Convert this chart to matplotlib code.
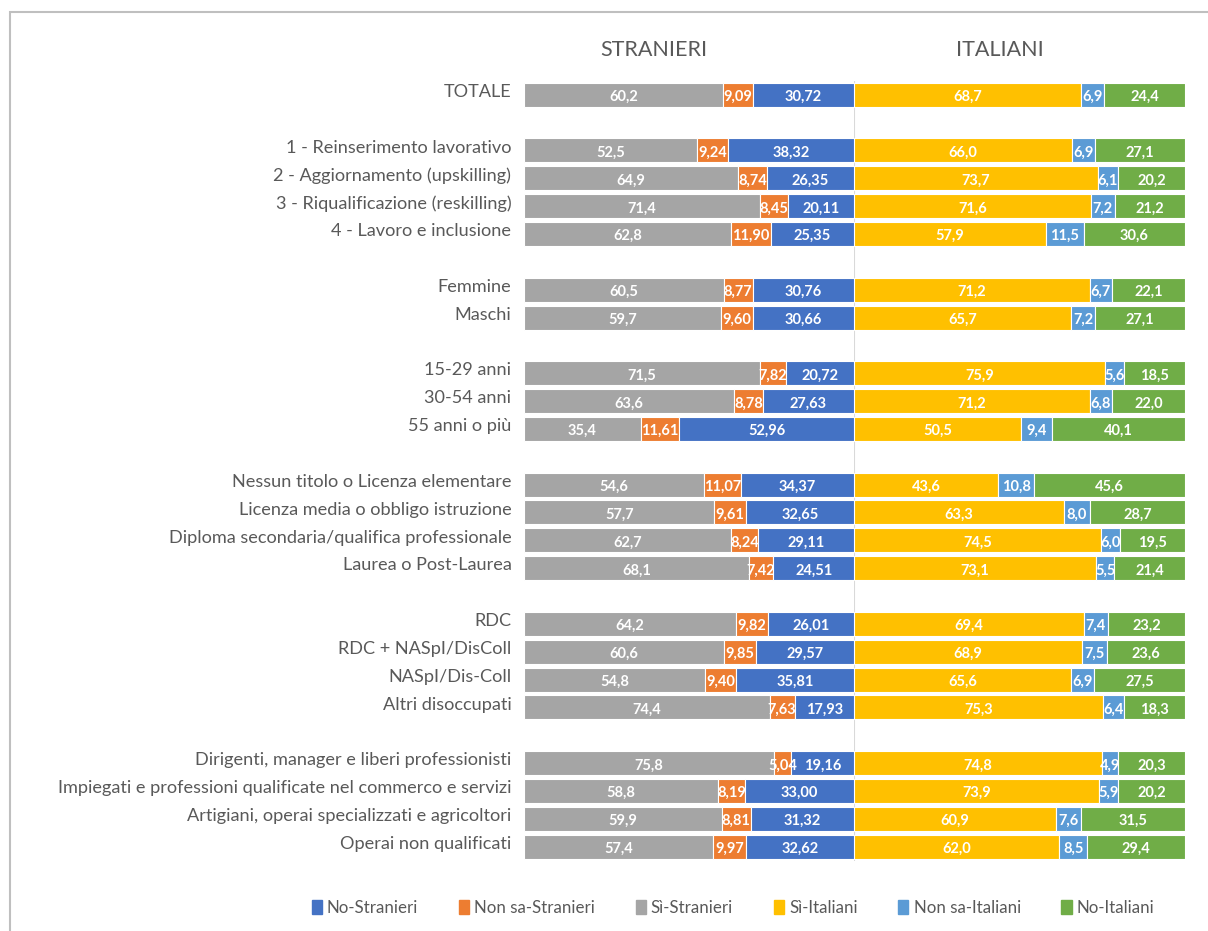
import matplotlib
matplotlib.use("Agg")
import matplotlib.pyplot as plt
from matplotlib.patches import Rectangle, Patch
import numpy as np

plt.rcParams['font.family'] = ['Lato', 'DejaVu Sans']

categories = [
    "TOTALE",
    "1 - Reinserimento lavorativo",
    "2 - Aggiornamento (upskilling)",
    "3 - Riqualificazione (reskilling)",
    "4 - Lavoro e inclusione",
    "Femmine",
    "Maschi",
    "15-29 anni",
    "30-54 anni",
    "55 anni o più",
    "Nessun titolo o Licenza elementare",
    "Licenza media o obbligo istruzione",
    "Diploma secondaria/qualifica professionale",
    "Laurea o Post-Laurea",
    "RDC",
    "RDC + NASpI/DisColl",
    "NASpI/Dis-Coll",
    "Altri disoccupati",
    "Dirigenti, manager e liberi professionisti",
    "Impiegati e professioni qualificate nel commerco e servizi",
    "Artigiani, operai specializzati e agricoltori",
    "Operai non qualificati",
]
group_sizes = [1, 4, 2, 3, 4, 4, 4]

si_stranieri = [60.2, 52.5, 64.9, 71.4, 62.8, 60.5, 59.7, 71.5, 63.6, 35.4,
                54.6, 57.7, 62.7, 68.1, 64.2, 60.6, 54.8, 74.4, 75.8, 58.8, 59.9, 57.4]
nonsa_stranieri = [9.09, 9.24, 8.74, 8.45, 11.90, 8.77, 9.60, 7.82, 8.78, 11.61,
                   11.07, 9.61, 8.24, 7.42, 9.82, 9.85, 9.40, 7.63, 5.04, 8.19, 8.81, 9.97]
no_stranieri = [30.72, 38.32, 26.35, 20.11, 25.35, 30.76, 30.66, 20.72, 27.63, 52.96,
                34.37, 32.65, 29.11, 24.51, 26.01, 29.57, 35.81, 17.93, 19.16, 33.00, 31.32, 32.62]

si_italiani = [68.7, 66.0, 73.7, 71.6, 57.9, 71.2, 65.7, 75.9, 71.2, 50.5,
               43.6, 63.3, 74.5, 73.1, 69.4, 68.9, 65.6, 75.3, 74.8, 73.9, 60.9, 62.0]
nonsa_italiani = [6.9, 6.9, 6.1, 7.2, 11.5, 6.7, 7.2, 5.6, 6.8, 9.4,
                  10.8, 8.0, 6.0, 5.5, 7.4, 7.5, 6.9, 6.4, 4.9, 5.9, 7.6, 8.5]
no_italiani = [24.4, 27.1, 20.2, 21.2, 30.6, 22.1, 27.1, 18.5, 22.0, 40.1,
               45.6, 28.7, 19.5, 21.4, 23.2, 23.6, 27.5, 18.3, 20.3, 20.2, 31.5, 29.4]

panel_titles = ["STRANIERI", "ITALIANI"]

C_GREY = "#A5A5A5"
C_ORANGE = "#ED7D31"
C_BLUE = "#4472C4"
C_YELLOW = "#FFC000"
C_LBLUE = "#5B9BD5"
C_GREEN = "#70AD47"
TXT = "#595959"

# row positions with blank rows between groups
ypos = []
r = 0
for gs in group_sizes:
    for _ in range(gs):
        ypos.append(r)
        r += 1
    r += 1
ypos = np.array(ypos, dtype=float)
nrows = ypos[-1]

W, H = 1208, 931
fig = plt.figure(figsize=(W / 100, H / 100), dpi=100)

# outer border
fig.patches.append(Rectangle((10 / W, -0.1), 1.2, (1 - 12 / H) + 0.1,
                             transform=fig.transFigure, fill=False,
                             edgecolor="#BFBFBF", linewidth=1.5))

top_px = 80.8
bot_px = 860.6
ax_bottom = 1 - bot_px / H
ax_h = (bot_px - top_px) / H
x0, xm, x1 = 524, 854, 1185
axL = fig.add_axes([x0 / W, ax_bottom, (xm - x0) / W, ax_h])
axR = fig.add_axes([xm / W, ax_bottom, (x1 - xm) / W, ax_h])

def fmt(v, d):
    return f"{v:.{d}f}".replace(".", ",")

def draw(ax, series, colors, decimals):
    left = np.zeros(len(ypos))
    for vals, col, d in zip(series, colors, decimals):
        vals = np.array(vals)
        ax.barh(ypos, vals, left=left, height=0.86, color=col,
                edgecolor="white", linewidth=0.8, zorder=2)
        for y, l, v in zip(ypos, left, vals):
            ax.text(l + v / 2, y + 0.08, fmt(v, d), ha="center", va="center",
                    color="white", fontsize=10.5, fontweight="bold", zorder=3)
        left = left + vals
    ax.set_xlim(0, 100)
    ax.set_ylim(nrows + 0.5, -0.5)
    for s in ax.spines.values():
        s.set_visible(False)
    ax.set_xticks([])
    ax.set_yticks([])
    ax.patch.set_alpha(0)

draw(axL, [si_stranieri, nonsa_stranieri, no_stranieri],
     [C_GREY, C_ORANGE, C_BLUE], [1, 2, 2])
draw(axR, [si_italiani, nonsa_italiani, no_italiani],
     [C_YELLOW, C_LBLUE, C_GREEN], [1, 1, 1])

# divider line
axR.axvline(0, color="#D9D9D9", linewidth=1.5, zorder=1, ymin=-0.02, ymax=1.0)
axR.set_clip_on(False)

for y, lab in zip(ypos, categories):
    axL.text(-3.8, y - 0.1, lab, ha="right", va="center", color=TXT, fontsize=13.1)

fig.text(654 / W, 1 - 50 / H, panel_titles[0], ha="center", va="center",
         color=TXT, fontsize=15.5)
fig.text(1000 / W, 1 - 50 / H, panel_titles[1], ha="center", va="center",
         color=TXT, fontsize=15.5)

handles = [Patch(color=C_BLUE, label="No-Stranieri"),
           Patch(color=C_ORANGE, label="Non sa-Stranieri"),
           Patch(color=C_GREY, label="Sì-Stranieri"),
           Patch(color=C_YELLOW, label="Sì-Italiani"),
           Patch(color=C_LBLUE, label="Non sa-Italiani"),
           Patch(color=C_GREEN, label="No-Italiani")]
leg = fig.legend(handles=handles, loc="center", ncol=6,
                 bbox_to_anchor=(733 / W, 1 - 908 / H), frameon=False,
                 handlelength=0.6, handleheight=0.9, handletextpad=0.3,
                 columnspacing=2.4, fontsize=12.2)
for t in leg.get_texts():
    t.set_color(TXT)

fig.savefig("out.png", dpi=100)
